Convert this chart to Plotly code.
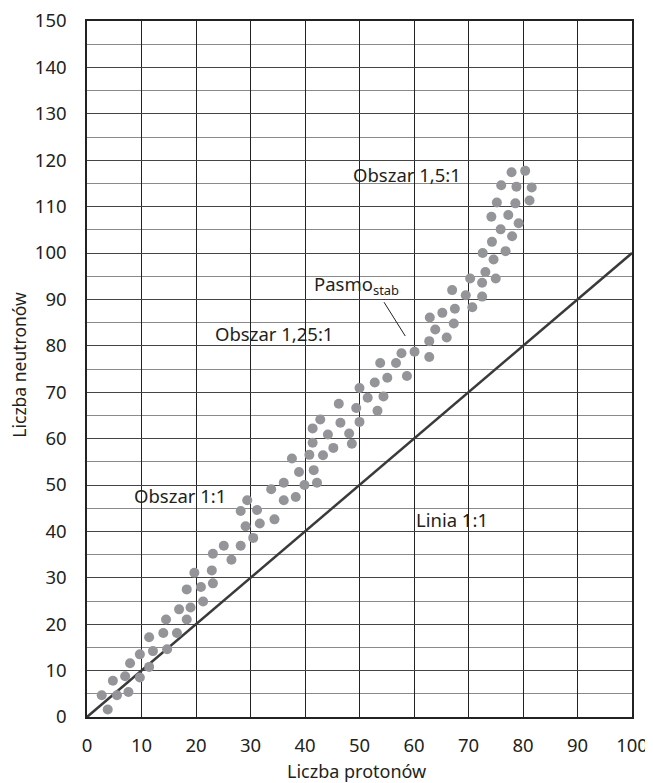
import plotly.graph_objects as go

# Data
protons = [2.7, 3.8, 4.75, 5.5, 7.0, 7.6, 7.9, 9.7, 9.7, 11.4, 11.4, 12.1, 14.0, 14.5, 14.7,
           16.5, 16.9, 18.3, 18.3, 19.0, 19.7, 20.9, 21.3, 22.9, 23.1, 23.1, 25.1, 26.5, 28.2,
           28.2, 29.1, 29.4, 30.5, 31.2, 31.7, 33.8, 34.4, 36.1, 36.1, 37.6, 38.3, 38.9, 39.9,
           40.8, 41.4, 41.4, 41.6, 42.2, 42.8, 43.3, 44.2, 45.2, 46.2, 46.5, 48.1, 48.6, 49.4,
           50.0, 50.0, 51.5, 52.8, 53.3, 53.8, 54.4, 55.1, 56.7, 57.7, 58.7, 60.1, 62.8, 62.8,
           62.9, 63.9, 65.2, 66.0, 67.0, 67.3, 67.5, 69.5, 70.3, 70.7, 72.5, 72.5, 72.6, 73.1,
           74.3, 74.6, 75.0, 75.2, 74.2, 75.9, 76.0, 76.8, 77.3, 77.9, 78.0, 78.6, 78.8, 79.2,
           80.4, 81.2, 81.6]
neutrons = [4.7, 1.6, 7.8, 4.7, 8.8, 5.4, 11.6, 13.5, 8.5, 17.2, 10.8, 14.2, 18.1, 21.0, 14.6,
            18.1, 23.2, 27.5, 21.0, 23.6, 31.1, 28.0, 24.9, 31.6, 28.8, 35.2, 36.9, 33.9, 36.9,
            44.4, 41.1, 46.7, 38.6, 44.6, 41.7, 49.1, 42.6, 46.7, 50.5, 55.7, 47.4, 52.8, 50.0,
            56.5, 59.1, 62.2, 53.2, 50.5, 64.1, 56.4, 60.9, 58.0, 67.5, 63.4, 61.1, 58.9, 66.6,
            63.6, 70.9, 68.8, 72.1, 66.0, 76.3, 69.1, 73.1, 76.3, 78.4, 73.5, 78.7, 77.6, 81.0,
            86.1, 83.5, 87.1, 81.8, 92.0, 84.8, 88.0, 90.9, 94.5, 88.3, 90.6, 93.6, 100.0, 95.9,
            102.4, 98.6, 94.5, 110.9, 107.8, 105.1, 114.6, 100.4, 108.2, 117.4, 103.6, 110.7, 114.3, 106.4,
            117.7, 111.3, 114.1]

line_x = [0, 100]
line_y = [0, 100]

x_ticks = [0, 10, 20, 30, 40, 50, 60, 70, 80, 90, 100]
y_ticks = [0, 10, 20, 30, 40, 50, 60, 70, 80, 90, 100, 110, 120, 130, 140, 150]

labels = [
    ("Obszar 1,5:1", 48.4, 117.0),
    ("Pasmo<sub>stab</sub>", 41.3, 93.2),
    ("Obszar 1,25:1", 23.1, 82.6),
    ("Obszar 1:1", 8.2, 47.8),
    ("Linia 1:1", 60.0, 42.6),
]
pointer_x = [54.5, 58.4]
pointer_y = [89.4, 82.1]

x_title = "Liczba protonów"
y_title = "Liczba neutronów"

FONT = "Noto Sans"
TXT = "#231f20"

fig = go.Figure()
fig.add_trace(go.Scatter(x=line_x, y=line_y, mode="lines",
                         line=dict(color="#3a3a3a", width=2.5), hoverinfo="skip"))
fig.add_trace(go.Scatter(x=protons, y=neutrons, mode="markers",
                         marker=dict(color="#939598", size=10, line=dict(width=0))))
fig.add_trace(go.Scatter(x=pointer_x, y=pointer_y, mode="lines",
                         line=dict(color="#222222", width=1), hoverinfo="skip"))

for text, x, y in labels:
    fig.add_annotation(x=x, y=y, text=text, showarrow=False, xanchor="left", yanchor="middle",
                       font=dict(family=FONT, size=18.5, color=TXT))

fig.add_annotation(xref="paper", yref="paper", x=0.495, y=-0.078, text=x_title,
                   showarrow=False, xanchor="center", yanchor="middle",
                   font=dict(family=FONT, size=18, color=TXT))
fig.add_annotation(xref="paper", yref="paper", x=-0.125, y=0.506, text=y_title,
                   showarrow=False, xanchor="center", yanchor="middle", textangle=-90,
                   font=dict(family=FONT, size=17.5, color=TXT))

# page body has an 8px default margin; size the figure to fit the window
fig.update_layout(
    width=645, height=775,
    margin=dict(l=79, r=21, t=13, b=66),
    paper_bgcolor="white", plot_bgcolor="white",
    showlegend=False,
    font=dict(family=FONT, size=18, color=TXT),
)
fig.update_xaxes(
    range=[0, 100], tickvals=x_ticks, showgrid=True, gridcolor="#222222", gridwidth=1.3,
    showline=True, linecolor="#222222", linewidth=1.5, mirror=True, zeroline=False,
    ticks="", ticklabelstandoff=11, tickfont=dict(size=18.5), automargin=False,
    ticklabeloverflow="allow",
)
fig.update_yaxes(
    range=[0, 150], tickvals=y_ticks, showgrid=True, gridcolor="#444444", gridwidth=1.2,
    minor=dict(dtick=5, tick0=0, showgrid=True, gridcolor="#8a8a8a", gridwidth=1.2),
    showline=True, linecolor="#222222", linewidth=1.5, mirror=True, zeroline=False,
    ticks="", ticklabelstandoff=15, tickfont=dict(size=18.5), automargin=False,
    ticklabeloverflow="allow",
)

fig.write_html("out.html")
